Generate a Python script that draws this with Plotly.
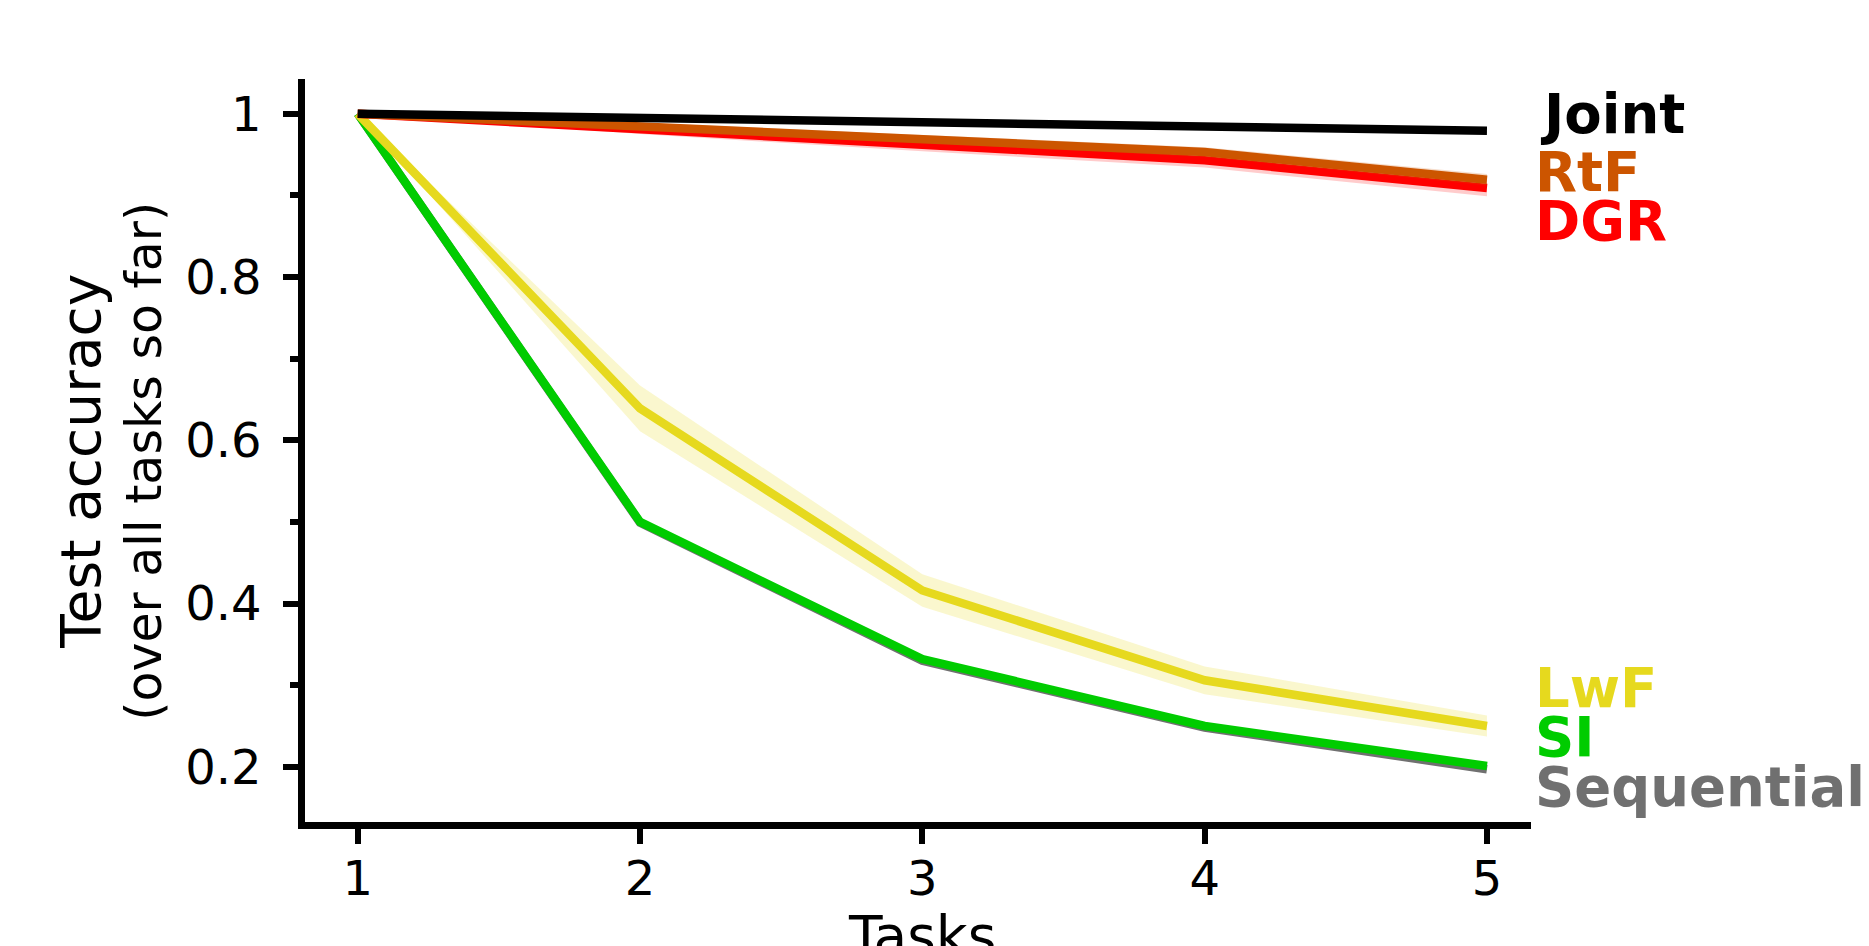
import plotly.graph_objects as go

tasks = [1, 2, 3, 4, 5]

seq_mean = [1.0, 0.499, 0.330, 0.248, 0.197]
si_mean = [1.0, 0.500, 0.332, 0.250, 0.201]
lwf_mean = [1.0, 0.639, 0.416, 0.306, 0.250]
lwf_sem = [0.0, 0.028, 0.020, 0.017, 0.013]
dgr_mean = [1.0, 0.981, 0.962, 0.943, 0.909]
dgr_sem = [0.0, 0.006, 0.008, 0.009, 0.010]
rtf_mean = [1.0, 0.985, 0.969, 0.953, 0.919]
rtf_sem = [0.0, 0.004, 0.005, 0.006, 0.007]
joint_mean = [1.0, 0.995, 0.990, 0.985, 0.979]

names = ["Sequential", "SI", "LwF", "DGR", "RtF", "Joint"]
colors = ["#707070", "#00cc00", "#e6d91e", "#ff0000", "#cc5500", "#000000"]
band_colors = [None, None, "rgba(230,217,30,0.22)", "rgba(255,0,0,0.2)", "rgba(204,85,0,0.2)", None]
means = [seq_mean, si_mean, lwf_mean, dgr_mean, rtf_mean, joint_mean]
sems = [None, None, lwf_sem, dgr_sem, rtf_sem, None]
label_y = [0.175, 0.2365, 0.296, 0.869, 0.929, 1.000]
label_x = [1.002, 1.002, 1.002, 1.002, 1.002, 1.006]

FONT = "DejaVu Sans"
fig = go.Figure()

for name, col, bcol, m, s in zip(names, colors, band_colors, means, sems):
    if s is not None:
        upper = [a + b for a, b in zip(m, s)]
        lower = [a - b for a, b in zip(m, s)]
        fig.add_trace(go.Scatter(x=tasks + tasks[::-1], y=upper + lower[::-1],
                                 fill="toself", fillcolor=bcol, line=dict(width=0),
                                 mode="lines", hoverinfo="skip", showlegend=False))
    fig.add_trace(go.Scatter(x=tasks, y=m, mode="lines", name=name,
                             line=dict(color=col, width=8.5), showlegend=False))

for name, col, lx, ly in zip(names, colors, label_x, label_y):
    fig.add_annotation(x=lx, y=ly, xref="paper", yref="y", text="<b>%s</b>" % name,
                       showarrow=False, xanchor="left", yanchor="middle",
                       font=dict(family=FONT, size=54.5, color=col))

fig.add_annotation(x=3, y=-0.107, xref="x", yref="paper", text="Tasks", showarrow=False,
                   xanchor="center", yanchor="top", font=dict(family=FONT, size=55, color="black"))
fig.add_annotation(x=-0.1827, y=0.485, xref="paper", yref="paper", text="Test accuracy",
                   showarrow=False, textangle=-90, xanchor="center", yanchor="middle",
                   font=dict(family=FONT, size=55, color="black"))
fig.add_annotation(x=-0.1305, y=0.485, xref="paper", yref="paper", text="(over all tasks so far)",
                   showarrow=False, textangle=-90, xanchor="center", yanchor="middle",
                   font=dict(family=FONT, size=49, color="black"))

fig.update_layout(
    width=1869, height=946,
    margin=dict(l=305, r=338, t=79, b=123.5),
    paper_bgcolor="white", plot_bgcolor="white",
    font=dict(family=FONT, size=48, color="black"),
    xaxis=dict(range=[0.8133, 5.156], tickvals=tasks, ticktext=[str(t) for t in tasks],
               showgrid=False, zeroline=False, showline=True, linecolor="black", linewidth=6.5,
               ticks="outside", ticklen=15, tickwidth=5.5, tickcolor="black",
               tickfont=dict(family=FONT, size=48), ticklabelstandoff=-6),
    yaxis=dict(range=[0.1324, 1.0425], tickvals=[0.2, 0.4, 0.6, 0.8, 1.0],
               ticktext=["0.2", "0.4", "0.6", "0.8", "1"],
               showgrid=False, zeroline=False, showline=True, linecolor="black", linewidth=6.5,
               ticks="outside", ticklen=15, tickwidth=5.5, tickcolor="black",
               tickfont=dict(family=FONT, size=48), ticklabelstandoff=12,
               minor=dict(tickvals=[0.3, 0.5, 0.7, 0.9], ticks="outside", ticklen=8,
                          tickwidth=5.5, tickcolor="black", showgrid=False)),
)

fig.write_html("out.html")
